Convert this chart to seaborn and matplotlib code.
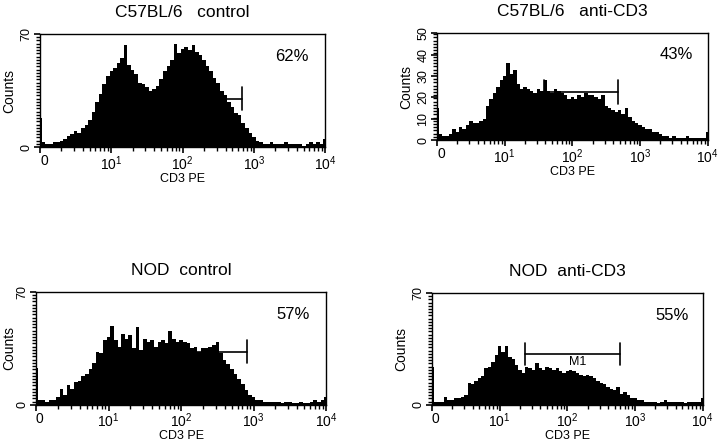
import numpy as np
import pandas as pd
import matplotlib
matplotlib.use("Agg")
import matplotlib.pyplot as plt
from matplotlib.ticker import MultipleLocator, FixedLocator
import seaborn as sns

# channel positions on a log10 scale (0 .. 4 decades)
log_pos = np.round(np.arange(0, 4.001, 0.05), 2)

# counts per channel
c57_control = [18, 3, 2, 2, 3, 3, 4, 5, 7, 8,
               10, 9, 12, 14, 17, 22, 28, 33, 39, 44,
               47, 49, 52, 55, 63, 51, 48, 45, 40, 39,
               37, 35, 36, 38, 42, 47, 50, 54, 64, 58,
               61, 62, 60, 63, 59, 57, 54, 50, 47, 43,
               40, 35, 32, 28, 25, 21, 20, 15, 12, 9,
               6, 4, 3, 2, 2, 3, 2, 2, 2, 3,
               2, 2, 2, 2, 1, 2, 3, 2, 3, 2, 5]
c57_anticd3 = [15, 3, 2, 2, 3, 5, 4, 6, 5, 7,
               9, 8, 8, 9, 10, 16, 19, 22, 25, 28,
               30, 36, 31, 33, 26, 24, 25, 24, 23, 22,
               24, 23, 28, 23, 22, 24, 23, 22, 21, 19,
               20, 19, 21, 20, 22, 21, 21, 20, 19, 21,
               16, 15, 14, 13, 14, 12, 15, 11, 9, 8,
               7, 6, 5, 5, 4, 4, 3, 2, 2, 1,
               2, 1, 1, 1, 2, 1, 1, 1, 1, 1, 4]
nod_control = [23, 3, 3, 2, 3, 3, 5, 10, 6, 12,
               10, 14, 15, 18, 19, 22, 26, 33, 32, 40,
               42, 49, 40, 36, 44, 41, 43, 35, 48, 34,
               41, 39, 40, 36, 39, 40, 38, 46, 41, 39,
               40, 39, 38, 35, 36, 33, 35, 35, 36, 37,
               39, 32, 28, 25, 22, 19, 16, 13, 9, 6,
               5, 3, 3, 2, 2, 2, 2, 2, 1, 2,
               2, 1, 1, 2, 1, 1, 2, 3, 2, 3, 5]
nod_anticd3 = [24, 2, 2, 2, 5, 3, 3, 4, 4, 5,
               6, 14, 13, 15, 17, 18, 23, 24, 27, 31,
               37, 33, 37, 30, 29, 25, 22, 20, 24, 23,
               22, 26, 23, 22, 24, 23, 22, 23, 21, 20,
               21, 22, 21, 20, 19, 18, 19, 18, 17, 15,
               14, 13, 11, 10, 9, 11, 7, 8, 6, 4,
               4, 3, 3, 2, 2, 2, 2, 1, 2, 3,
               2, 2, 2, 2, 2, 1, 2, 2, 2, 2, 4]

titles = ["C57BL/6   control", "C57BL/6   anti-CD3", "NOD  control", "NOD  anti-CD3"]
percents = ["62%", "43%", "57%", "55%"]
y_max = [70, 50, 70, 70]

# M1 gate: left, right (log10) and height in counts
gate_left = [1.35, 1.58, 1.40, 1.37]
gate_right = [2.84, 2.67, 2.91, 2.78]
gate_y = [30, 22.6, 33, 31.7]

series = [c57_control, c57_anticd3, nod_control, nod_anticd3]

sns.set_style("ticks")
plt.rcParams['font.family'] = ['Liberation Sans', 'DejaVu Sans']
plt.rcParams['mathtext.default'] = 'regular'
plt.rcParams['text.color'] = 'black'
plt.rcParams['axes.labelcolor'] = 'black'
plt.rcParams['xtick.color'] = 'black'
plt.rcParams['ytick.color'] = 'black'

fig = plt.figure(figsize=(7.2, 4.42), dpi=100)
rects = [[0.0556, 0.667, 0.396, 0.256],
         [0.607, 0.683, 0.376, 0.242],
         [0.050, 0.084, 0.403, 0.256],
         [0.600, 0.084, 0.376, 0.253]]
ylabel_pad = [3, 3, 0, 3]

minor_x = [k + np.log10(m) for k in range(4) for m in range(2, 10)]

for i in range(4):
    ax = fig.add_axes(rects[i])
    df = pd.DataFrame({"pos": log_pos, "count": series[i]})
    sns.histplot(data=df, x="pos", weights="count", bins=len(log_pos),
                 binrange=(-0.025, 4.025), element="step",
                 fill=True, color="black", alpha=1, linewidth=0, ax=ax)
    ax.set_xlim(0, 4)
    ax.set_ylim(0, y_max[i])

    # gate marker
    half = 7 if y_max[i] == 70 else 5.5
    ax.plot([gate_left[i], gate_right[i]], [gate_y[i], gate_y[i]], color="black", lw=1.2)
    for gx in (gate_left[i], gate_right[i]):
        ax.plot([gx, gx], [gate_y[i] - half, gate_y[i] + half], color="black", lw=1.2)
    if i == 3:
        ax.text(2.15, gate_y[i] - 1, "M1", fontsize=9, ha="center", va="top")

    ax.text(0.885, 0.80, percents[i], transform=ax.transAxes, fontsize=12,
            ha="center", va="center")

    # axes styling
    for s in ax.spines.values():
        s.set_visible(True)
        s.set_linewidth(1.0)
        s.set_color("black")
    ax.set_xticks([0, 1, 2, 3, 4])
    ax.set_xticklabels(["0", "$10^1$", "$10^2$", "$10^3$", "$10^4$"], fontsize=10)
    ax.get_xticklabels()[0].set_horizontalalignment("left")
    ax.xaxis.set_minor_locator(FixedLocator(minor_x))
    if y_max[i] == 70:
        ax.set_yticks([0, 70])
        ax.yaxis.set_minor_locator(MultipleLocator(2))
    else:
        ax.set_yticks([0, 10, 20, 30, 40, 50])
        ax.yaxis.set_minor_locator(MultipleLocator(1.5))
    ax.tick_params(axis="y", labelsize=9, labelrotation=90, pad=1.5)
    for lbl in ax.get_yticklabels():
        lbl.set_verticalalignment("center")
    ax.tick_params(which="major", direction="out", length=4, width=1.2, color="black")
    ax.tick_params(which="minor", direction="out", length=3, width=1.0, color="black")
    ax.tick_params(axis="x", pad=1)

    ax.set_xlabel("CD3 PE", fontsize=9, labelpad=0)
    ax.set_ylabel("Counts", fontsize=10, labelpad=ylabel_pad[i])
    ax.set_title(titles[i], fontsize=12.5, pad=12)

fig.savefig("out.png", dpi=100)
